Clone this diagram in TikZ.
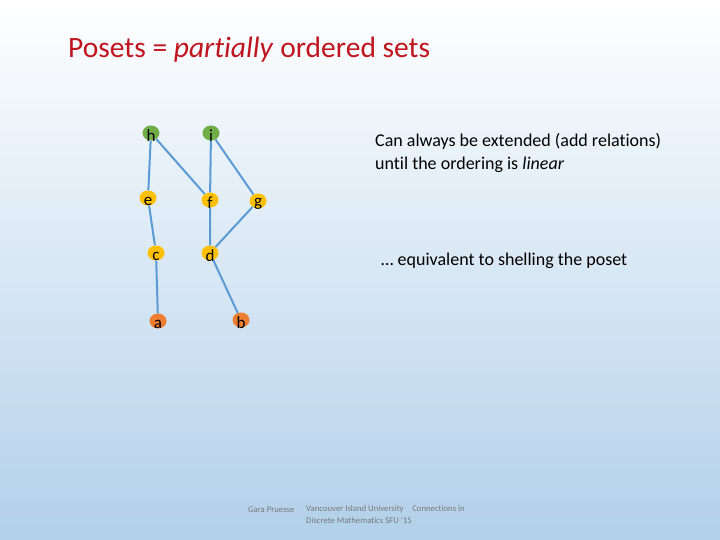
\documentclass[tikz,border=0pt]{standalone}
\usepackage{fontspec}
\usetikzlibrary{shapes.geometric}
\setmainfont[Ligatures=NoCommon]{Carlito}
\definecolor{titlered}{RGB}{192,20,30}
\definecolor{vgreen}{RGB}{112,173,71}
\definecolor{vyellow}{RGB}{255,192,0}
\definecolor{vorange}{RGB}{237,125,49}
\definecolor{edgeblue}{RGB}{91,155,213}
\definecolor{bgbot}{RGB}{178,208,234}
\definecolor{foot}{RGB}{120,120,120}
\begin{document}
\begin{tikzpicture}[x=1pt,y=-1pt,
  vtx/.style={ellipse,inner sep=0pt,minimum width=17pt,minimum height=15pt,fill=#1},
  lbl/.style={font=\fontsize{17}{17}\selectfont,text=black},
  edge/.style={draw=edgeblue,line width=2pt}]
\shade[top color=white,bottom color=bgbot] (0,0) rectangle (720,540);
\useasboundingbox (0,0) rectangle (720,540);
\node[anchor=west,inner sep=0pt,text=titlered,font=\fontsize{29.5}{30}\selectfont] (title) at (68,50) {Posets = \textit{partially} ordered sets};
\foreach \n/\x/\y/\c in {h/151/133/vgreen,i/211/133/vgreen,e/148/198/vyellow,f/210/200/vyellow,g/258/201/vyellow,c/156/253/vyellow,d/210/253/vyellow,a/158/321/vorange,b/241/320/vorange}{
  \node[vtx=\c] (\n) at (\x,\y) {};
}
\draw[edge] (h)--(e) (h)--(f) (i)--(f) (i)--(g) (e)--(c) (f)--(d) (g)--(d) (c)--(a) (d)--(b);
\foreach \n/\t in {h/h,i/i,e/e,f/f,g/g,c/c,d/d,a/a,b/b}{
  \node[lbl] (t\n) at ([yshift=-3pt]\n) {\t};
}
\node[anchor=west,inner sep=0pt,align=left,font=\fontsize{18}{23}\selectfont] (t1) at (375,153) {Can always be extended (add relations)\\until the ordering is \textit{linear}};
\node[anchor=west,inner sep=0pt,font=\fontsize{18}{18}\selectfont] (t2) at (381,261) {… equivalent to shelling the poset};
\node[anchor=west,inner sep=0pt,text=foot,font=\fontsize{8.7}{10}\selectfont] (f1) at (248,510) {Gara Pruesse};
\node[anchor=north west,inner sep=0pt,align=left,text=foot,font=\fontsize{8.7}{12}\selectfont] (f2) at (306,505) {Vancouver Island University\quad Connections in\\Discrete Mathematics SFU '15};
\end{tikzpicture}
\end{document}
